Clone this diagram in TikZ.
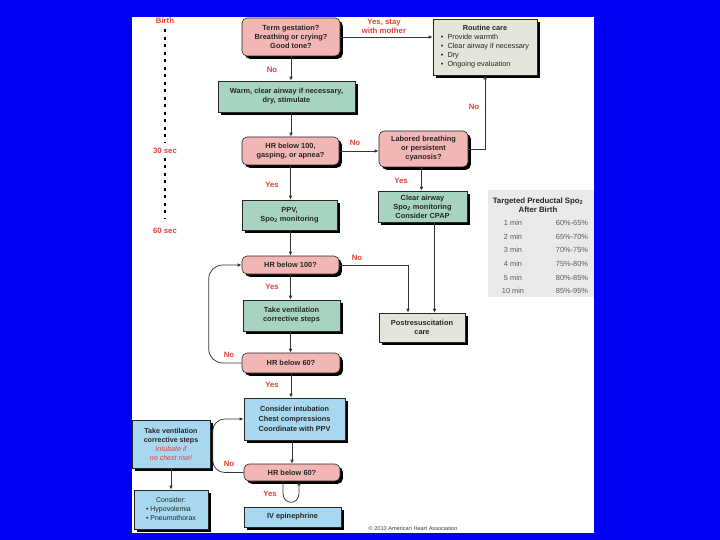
\documentclass[tikz,border=0pt]{standalone}
\usepackage{fontspec}
\setmainfont{Liberation Sans}
\usetikzlibrary{shadows,arrows.meta,calc}
\definecolor{bgblue}{RGB}{0,0,245}
\definecolor{pinkc}{RGB}{242,182,180}
\definecolor{greenc}{RGB}{166,212,192}
\definecolor{beigec}{RGB}{229,228,218}
\definecolor{bluec}{RGB}{167,216,240}
\definecolor{tablec}{RGB}{234,234,237}
\definecolor{redc}{RGB}{228,64,58}
\begin{document}
\begin{tikzpicture}[x=1pt,y=-1pt,
  base/.style={draw=black!85, line width=0.6pt, align=center,
    font=\fontsize{7.4}{9}\selectfont\bfseries, text=black!85, inner sep=1pt,
    drop shadow={shadow xshift=2.8pt,shadow yshift=-2.8pt,opacity=1,fill=black}},
  pinkbox/.style={base, fill=pinkc, rounded corners=5pt},
  greenbox/.style={base, fill=greenc},
  beigebox/.style={base, fill=beigec},
  bluebox/.style={base, fill=bluec},
  arr/.style={-{Latex[length=4pt,width=3.5pt]}, line width=0.75pt, draw=black!80},
  lbl/.style={text=redc, font=\fontsize{7.8}{8.8}\selectfont\bfseries, inner sep=0pt, align=center},
  timeline/.style={dash pattern=on 3pt off 4.5pt, line width=1.6pt, draw=black},
  tabtxt/.style={font=\fontsize{7.4}{8}\selectfont, text=black!65, inner sep=0pt}
]
\useasboundingbox (0,0) rectangle (720,540);
\fill[bgblue] (0,0) rectangle (720,540);
\fill[white] (132,17) rectangle (594,533);

% timeline
\node[lbl] (birth) at (165,21) {Birth};
\node[lbl] (sec30) at (165,151) {30 sec};
\node[lbl] (sec60) at (165,231) {60 sec};
\draw[timeline, shorten <=5pt, shorten >=5pt] (birth.south) -- (sec30.north);
\draw[timeline, shorten <=4pt, shorten >=10pt] (sec30.south) -- (sec60.north);

% boxes
\node[pinkbox, minimum width=98pt, minimum height=38pt] (term) at (291,37)
  {Term gestation?\\Breathing or crying?\\Good tone?};
\node[greenbox, minimum width=137pt, minimum height=31pt] (warm) at (286.5,96.5)
  {Warm, clear airway if necessary,\\dry, stimulate};
\node[beigebox, minimum width=104pt, minimum height=56pt, font=\fontsize{7.3}{9}\selectfont] (routine) at (485,47)
  {\begin{tabular}{@{}l@{}}\multicolumn{1}{c}{\bfseries Routine care}\\
   \textbullet\ \ Provide warmth\\
   \textbullet\ \ Clear airway if necessary\\
   \textbullet\ \ Dry\\
   \textbullet\ \ Ongoing evaluation\end{tabular}};
\node[pinkbox, minimum width=97pt, minimum height=28pt] (hra) at (290.5,151)
  {HR below 100,\\gasping, or apnea?};
\node[pinkbox, minimum width=89pt, minimum height=36pt] (lab) at (423.5,149)
  {Labored breathing\\or persistent\\cyanosis?};
\node[greenbox, minimum width=95pt, minimum height=30pt] (ppv) at (289.5,215)
  {PPV,\\Spo\textsubscript{2} monitoring};
\node[greenbox, minimum width=89pt, minimum height=31pt] (clear) at (422.5,206.5)
  {Clear airway\\Spo\textsubscript{2} monitoring\\Consider CPAP};
\node[pinkbox, minimum width=97pt, minimum height=18pt] (hrb) at (290.5,265)
  {HR below 100?};
\node[beigebox, minimum width=86pt, minimum height=29pt] (post) at (422,327.5)
  {Postresuscitation\\care};
\node[greenbox, minimum width=97pt, minimum height=31pt] (tv) at (291.5,315.5)
  {Take ventilation\\corrective steps};
\node[pinkbox, minimum width=98pt, minimum height=20pt] (hrc) at (291,363)
  {HR below 60?};
\node[bluebox, minimum width=101pt, minimum height=42pt, font=\fontsize{7.3}{10}\selectfont\bfseries] (ci) at (294.5,419)
  {Consider intubation\\Chest compressions\\Coordinate with PPV};
\node[pinkbox, minimum width=96pt, minimum height=17pt] (hrd) at (292,472.5)
  {HR below 60?};
\node[bluebox, minimum width=78pt, minimum height=48pt, font=\fontsize{7.1}{9}\selectfont\bfseries] (tvleft) at (171,444)
  {Take ventilation\\corrective steps\\{\color{redc}\mdseries\itshape Intubate if}\\{\color{redc}\mdseries\itshape no chest rise!}};
\node[bluebox, minimum width=74pt, minimum height=39pt, font=\fontsize{7}{9}\selectfont] (cons) at (171,509.5)
  {\begin{tabular}{@{}l@{}}\multicolumn{1}{c}{Consider:}\\
   \textbullet\ Hypovolemia\\
   \textbullet\ Pneumothorax\end{tabular}};
\node[bluebox, minimum width=97pt, minimum height=20pt] (iv) at (292.5,517)
  {IV epinephrine};

% table
\node[fill=tablec, minimum width=106pt, minimum height=107pt, inner sep=0pt] (tbl) at (541,243.5) {};
\node[tabtxt, font=\fontsize{7.8}{8.5}\selectfont\bfseries, text=black!85, align=center] (ttitle) at (538,205)
  {Targeted Preductal Spo\textsubscript{2}\\After Birth};
\foreach \i/\t/\v/\y in {1/1 min/60\%-65\%/223, 2/2 min/65\%-70\%/237, 3/3 min/70\%-75\%/250,
    4/4 min/75\%-80\%/264, 5/5 min/80\%-85\%/278, 6/10 min/85\%-95\%/291} {
  \node[tabtxt] (tmin\i) at (513,\y) {\t};
  \node[tabtxt] (tval\i) at (572,\y) {\v};
}

% connectors
\draw[arr] (term.south) -- (term.south |- warm.north);
\draw[arr] (term.east) -- (term.east -| routine.west);
\draw[arr] (warm.south -| term.south) -- (term.south |- hra.north);
\draw[arr] (hra.east) -- (hra.east -| lab.west);
\draw[arr] (lab.east) -| (routine.south);
\draw[arr] ([xshift=-2pt]lab.south) -- ([xshift=-2pt]lab.south |- clear.north);
\draw[arr] (hra.south) -- (hra.south |- ppv.north);
\draw[arr] (hra.south |- ppv.south) -- (hrb.north);
\draw[arr] ([xshift=12pt]clear.south) -- ([xshift=12pt]clear.south |- post.north);
\draw[arr] (hrb.east) -| ([xshift=-14pt]post.north);
\draw[arr] (hrb.south) -- (hrb.south |- tv.north);
\draw[arr] (hrb.south |- tv.south) -- (hrb.south |- hrc.north);
\draw[arr] (hrc.south) -- (hrc.south |- ci.north);
\draw[arr] (hrd.north |- ci.south) -- (hrd.north);
\draw[arr, rounded corners=14pt] (hrc.west) -- ++(-33,0) |- (hrb.west);
\draw[arr, rounded corners=12pt] (hrd.west) -- ++(-31,0) |- (ci.west);
\draw[arr] ([xshift=-9pt]hrd.south) -- ++(0,12) .. controls +(0,12) and +(0,12) .. ++(16,0) -- ([xshift=7pt]hrd.south);
\draw[arr] (tvleft.south) -- (tvleft.south |- cons.north);

% labels
\node[lbl] (l1) at (272,70) {No};
\node[lbl] (l2) at (384,26) {Yes, stay\\with mother};
\node[lbl] (l3) at (355,143) {No};
\node[lbl] (l4) at (474,107) {No};
\node[lbl] (l5) at (272,185) {Yes};
\node[lbl] (l6) at (401,181) {Yes};
\node[lbl] (l7) at (357,258) {No};
\node[lbl] (l8) at (272,287) {Yes};
\node[lbl] (l9) at (229,355) {No};
\node[lbl] (l10) at (272,385) {Yes};
\node[lbl] (l11) at (229,464) {No};
\node[lbl] (l12) at (270,494) {Yes};

\node[font=\fontsize{5.6}{6}\selectfont, text=black!75, inner sep=0pt] (copy) at (413,528)
  {\textcopyright\ 2010 American Heart Association};
\end{tikzpicture}
\end{document}
